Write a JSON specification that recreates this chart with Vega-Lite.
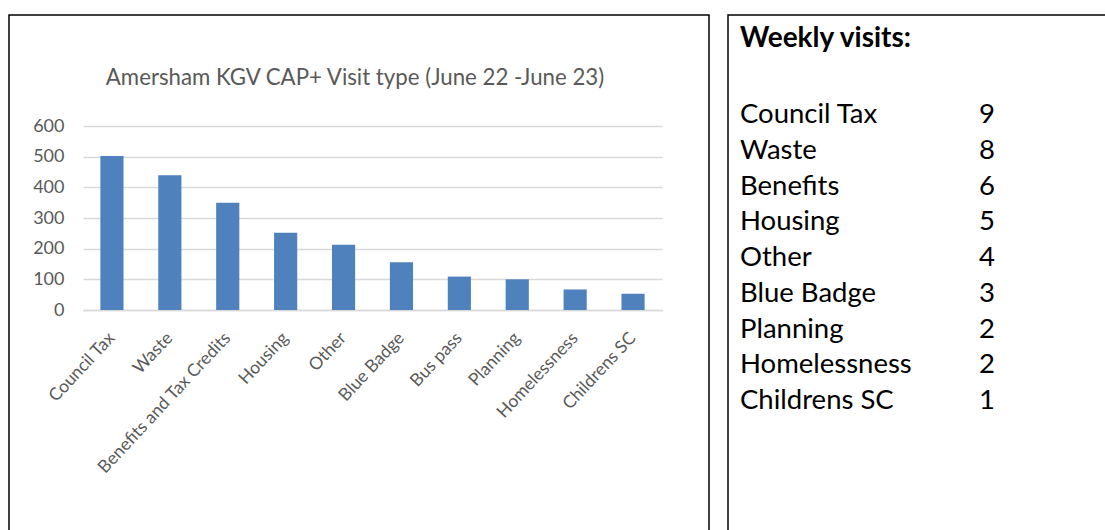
{
  "$schema": "https://vega.github.io/schema/vega-lite/v6.json",
  "padding": {"left": 8, "top": 14, "right": 0, "bottom": 0},
  "background": "white",
  "spacing": 17,
  "config": {
    "view": {"stroke": "black", "strokeWidth": 1.5},
    "font": "Lato"
  },
  "hconcat": [
    {
      "width": 700,
      "height": 530,
      "title": {
        "text": "Amersham KGV CAP+ Visit type (June 22 -June 23)",
        "font": "Lato",
        "fontSize": 22.25,
        "fontWeight": "normal",
        "color": "#595959",
        "anchor": "middle",
        "offset": -74,
        "dx": -4
      },
      "data": {
        "values": [
          {"visitType": "Council Tax", "visits": 502},
          {"visitType": "Waste", "visits": 439},
          {"visitType": "Benefits and Tax Credits", "visits": 350},
          {"visitType": "Housing", "visits": 252},
          {"visitType": "Other", "visits": 213},
          {"visitType": "Blue Badge", "visits": 156},
          {"visitType": "Bus pass", "visits": 109},
          {"visitType": "Planning", "visits": 100},
          {"visitType": "Homelessness", "visits": 67},
          {"visitType": "Childrens SC", "visits": 53}
        ]
      },
      "mark": {"type": "bar", "color": "#4f81bd"},
      "encoding": {
        "x": {
          "field": "visitType",
          "type": "nominal",
          "sort": null,
          "title": null,
          "scale": {"range": [74, 653], "paddingInner": 0.6, "paddingOuter": 0.3},
          "axis": {
            "labelAngle": -47,
            "labelAlign": "right",
            "labelBaseline": "middle",
            "labelPadding": 25,
            "labelFont": "Lato",
            "labelFontSize": 17.5,
            "labelColor": "#595959",
            "ticks": false,
            "tickSize": 0,
            "domainColor": "#d9d9d9",
            "domainWidth": 1.5,
            "offset": -235,
            "labelOverlap": false,
            "labelLimit": 0
          }
        },
        "y": {
          "field": "visits",
          "type": "quantitative",
          "title": null,
          "scale": {"domain": [0, 600], "range": [295, 111], "nice": false},
          "axis": {
            "values": [0, 100, 200, 300, 400, 500, 600],
            "grid": true,
            "gridColor": "#d9d9d9",
            "gridWidth": 1.5,
            "domain": false,
            "ticks": false,
            "tickSize": 0,
            "labelPadding": 5,
            "offset": -60,
            "labelFont": "Lato",
            "labelFontSize": 18,
            "labelColor": "#595959"
          }
        }
      }
    },
    {
      "width": 380,
      "height": 530,
      "title": {
        "text": "Weekly visits:",
        "font": "Lato",
        "fontSize": 28,
        "fontWeight": "bold",
        "color": "black",
        "anchor": "start",
        "offset": -38,
        "dx": 12
      },
      "data": {
        "values": [
          {"item": "Council Tax", "visits": 9},
          {"item": "Waste", "visits": 8},
          {"item": "Benefits", "visits": 6},
          {"item": "Housing", "visits": 5},
          {"item": "Other", "visits": 4},
          {"item": "Blue Badge", "visits": 3},
          {"item": "Planning", "visits": 2},
          {"item": "Homelessness", "visits": 2},
          {"item": "Childrens SC", "visits": 1}
        ]
      },
      "encoding": {
        "y": {
          "field": "item",
          "type": "nominal",
          "sort": null,
          "axis": null,
          "scale": {"type": "point", "padding": 0, "range": [100, 386]}
        }
      },
      "layer": [
        {
          "mark": {"type": "text", "align": "left", "baseline": "middle", "font": "Lato", "fontSize": 27.5, "color": "black"},
          "encoding": {
            "x": {"datum": "label", "type": "nominal", "axis": null, "scale": {"type": "point", "domain": ["label", "visits"], "padding": 0.269, "align": 0.09}},
            "text": {"field": "item"}
          }
        },
        {
          "mark": {"type": "text", "align": "center", "baseline": "middle", "font": "Lato", "fontSize": 27.5, "color": "black"},
          "encoding": {
            "x": {"datum": "visits", "type": "nominal"},
            "text": {"field": "visits"}
          }
        }
      ]
    }
  ]
}
